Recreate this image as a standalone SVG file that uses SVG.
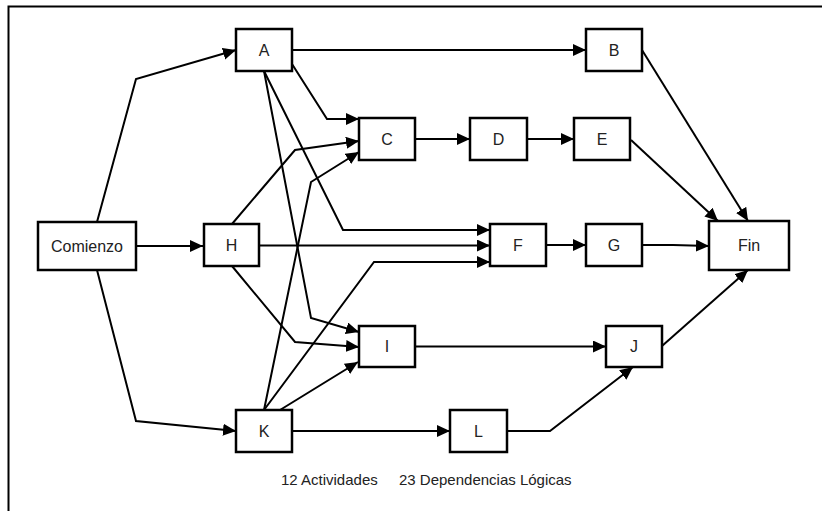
<svg xmlns="http://www.w3.org/2000/svg" width="822" height="511" viewBox="0 0 822 511">
<style>
.box{fill:#fff;stroke:#000;stroke-width:2.5}
.lbl{font-family:"Liberation Sans",Arial,sans-serif;font-size:16px;fill:#222;text-anchor:middle}
.cap{font-family:"Liberation Sans",Arial,sans-serif;font-size:15px;fill:#222}
.e{fill:none;stroke:#000;stroke-width:2;stroke-linejoin:miter;marker-end:url(#ah)}
</style>
<defs>
<marker id="ah" markerUnits="userSpaceOnUse" markerWidth="14" markerHeight="13" refX="13" refY="6" orient="auto">
<path d="M0,0 L13,6 L0,12 z" fill="#000"/>
</marker>
</defs>
<rect width="822" height="511" fill="#fff"/>
<path d="M8.5,511 V6.5 H822" fill="none" stroke="#000" stroke-width="2"/>
<g id="connectors">
<path class="e" d="M97,222 L136,79 L236,50"/>
<path class="e" d="M136,246 L203,246"/>
<path class="e" d="M97,270 L136,421 L236,431"/>
<path class="e" d="M292,50 L586,50"/>
<path class="e" d="M292,64 L327,119 L359,119"/>
<path class="e" d="M232,224 L295,150 L359,141"/>
<path class="e" d="M264,410 L311,182 L359,152"/>
<path class="e" d="M264,71 L343,230 L490,230"/>
<path class="e" d="M259,245.5 L490,245.5"/>
<path class="e" d="M264,410 L374,262 L490,262"/>
<path class="e" d="M264,71 L311,318 L359,332"/>
<path class="e" d="M232,266 L295,342 L359,347"/>
<path class="e" d="M280,410 L358,362"/>
<path class="e" d="M292,431 L450,431"/>
<path class="e" d="M415,139 L470,139"/>
<path class="e" d="M527,139 L574,139"/>
<path class="e" d="M631,140 L718,221"/>
<path class="e" d="M642,50 L748,221"/>
<path class="e" d="M546,245 L586,245"/>
<path class="e" d="M642,245 L673,245 L709,246"/>
<path class="e" d="M415,346.5 L606,346.5"/>
<path class="e" d="M662,346 L748,270"/>
<path class="e" d="M507,431 L550,431 L633,367"/>
</g>
<g id="Comienzo"><rect class="box" x="38" y="222" width="98" height="48"/><text class="lbl" x="87" y="251.5">Comienzo</text></g>
<g id="A"><rect class="box" x="236" y="29" width="56" height="42"/><text class="lbl" x="264" y="55.5">A</text></g>
<g id="B"><rect class="box" x="586" y="29" width="56" height="42"/><text class="lbl" x="614" y="55.5">B</text></g>
<g id="C"><rect class="box" x="359" y="118" width="56" height="42"/><text class="lbl" x="387" y="144.5">C</text></g>
<g id="D"><rect class="box" x="470" y="118" width="57" height="42"/><text class="lbl" x="498.5" y="144.5">D</text></g>
<g id="E"><rect class="box" x="574" y="118" width="56" height="42"/><text class="lbl" x="602" y="144.5">E</text></g>
<g id="H"><rect class="box" x="204" y="224" width="55" height="42"/><text class="lbl" x="231.5" y="250.5">H</text></g>
<g id="F"><rect class="box" x="490" y="224" width="56" height="42"/><text class="lbl" x="518" y="250.5">F</text></g>
<g id="G"><rect class="box" x="586" y="224" width="56" height="42"/><text class="lbl" x="614" y="250.5">G</text></g>
<g id="Fin"><rect class="box" x="709" y="221" width="80" height="49"/><text class="lbl" x="749" y="251">Fin</text></g>
<g id="I"><rect class="box" x="359" y="326" width="56" height="41"/><text class="lbl" x="387" y="352">I</text></g>
<g id="J"><rect class="box" x="606" y="326" width="56" height="41"/><text class="lbl" x="634" y="352">J</text></g>
<g id="K"><rect class="box" x="236" y="410" width="56" height="42"/><text class="lbl" x="264" y="436.5">K</text></g>
<g id="L"><rect class="box" x="450" y="410" width="57" height="42"/><text class="lbl" x="478.5" y="436.5">L</text></g>
<text class="cap" x="281" y="485">12 Actividades</text>
<text class="cap" x="399" y="485">23 Dependencias Lógicas</text>
</svg>
